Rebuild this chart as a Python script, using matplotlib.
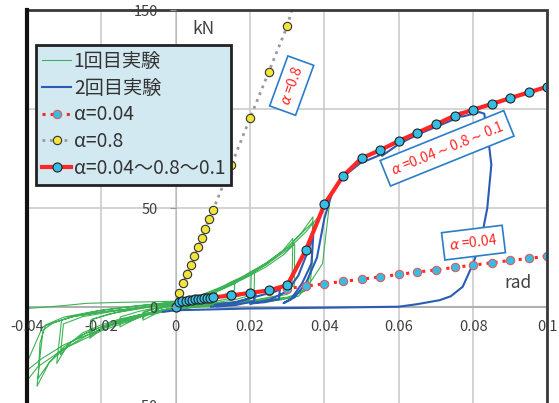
import matplotlib
matplotlib.use("Agg")
import matplotlib.pyplot as plt
from matplotlib.patches import Rectangle
from matplotlib.lines import Line2D
from matplotlib.ticker import FuncFormatter

plt.rcParams['font.family'] = ['Noto Sans CJK JP', 'DejaVu Sans']
plt.rcParams['axes.unicode_minus'] = False

# 1回目実験 (hysteresis loops), rad / kN
test1_x = [0, 0.002, 0.004, 0.0055, 0.0054, 0.003, 0, -0.003, -0.0055, -0.0054, -0.003, 0,
           0.003, 0.006, 0.009, 0.011, 0.0108, 0.007, 0.003, 0, -0.004, -0.0088, -0.0087, -0.006, -0.003, 0,
           0.004, 0.007, 0.0105, 0.0103, 0.006, 0.002, -0.003, -0.007, -0.0089, -0.0088, -0.006, -0.002, 0,
           0.004, 0.008, 0.012, 0.0159, 0.0158, 0.012, 0.007, 0.002, -0.004, -0.009, -0.015, -0.0149, -0.01,
           -0.005, 0,
           0.004, 0.008, 0.012, 0.016, 0.0203, 0.0202, 0.016, 0.01, 0.005, 0, -0.005, -0.01, -0.015, -0.019, -0.0231,
           -0.0229, -0.018, -0.012, -0.006, 0,
           0.005, 0.01, 0.015, 0.019, 0.0212, 0.0211, 0.015, 0.008, 0.003, 0, -0.006, -0.012, -0.018, -0.0225,
           -0.0224, -0.016, -0.008, 0,
           0.005, 0.01, 0.015, 0.02, 0.025, 0.029, 0.0315, 0.0313, 0.03, 0.025, 0.02, 0.015, 0.01, 0.005, 0,
           -0.005, -0.01, -0.015, -0.02, -0.025, -0.029, -0.032, -0.0307, -0.027, -0.02, -0.013, -0.006, 0,
           0.006, 0.012, 0.018, 0.024, 0.029, 0.032, 0.0319, 0.028, 0.021, 0.013, 0.006, 0,
           -0.006, -0.012, -0.018, -0.024, -0.028, -0.031, -0.0302, -0.025, -0.017, -0.009, 0,
           0.005, 0.01, 0.015, 0.02, 0.025, 0.03, 0.034, 0.0369, 0.0367, 0.0362, 0.033, 0.028, 0.02, 0.012, 0.005, 0,
           -0.005, -0.01, -0.015, -0.02, -0.025, -0.03, -0.034, -0.0373, -0.0365, -0.0357, -0.033, -0.028, -0.02,
           -0.012, -0.005, 0,
           0.006, 0.012, 0.018, 0.024, 0.03, 0.034, 0.0369, 0.0368, 0.0355, 0.031, 0.024, 0.015, 0.006, 0,
           -0.006, -0.012, -0.018, -0.024, -0.03, -0.034, -0.037, -0.0365, -0.035, -0.03, -0.022, -0.012, 0,
           0.006, 0.012, 0.018, 0.024, 0.03, 0.035, 0.0385, 0.0414, 0.0395, 0.036, 0.0347, 0.03, 0.022, 0.012, 0.004, 0,
           -0.01, -0.02, -0.03, -0.036, -0.04, -0.044, -0.045, -0.042, -0.04, -0.035, -0.03, -0.024, -0.015, -0.006, 0,
           -0.01, -0.02, -0.03, -0.037, -0.042, -0.046, -0.043, -0.0397, -0.0358, -0.0285, -0.02, -0.01, 0]
test1_y = [0, 1.2, 2.4, 3.6, 1.5, 0.4, -0.6, -1.6, -2.8, -1.2, -0.2, 0.8,
           2.2, 3.8, 5.5, 7.5, 3, 1.3, 0.2, -0.8, -2, -6.6, -3, -1, 0.6, 1.5,
           3.0, 4.8, 7.0, 3.2, 1.5, 0.3, -1.2, -3, -5.5, -2.6, -0.8, 0.5, 1.7,
           3.6, 6.2, 9.2, 13.6, 8.6, 5.5, 2.8, 0.6, -1.6, -4.2, -10, -5, -2.2,
           -0.2, 1.8,
           3.5, 5.8, 8.5, 12, 17.8, 6, 3.8, 2, 0.8, -0.5, -2, -4, -6.5, -9.5, -15.8,
           -6.6, -3.5, -1.2, 0.5, 2,
           4.5, 7.5, 11.5, 15.5, 18.7, 7.7, 4.5, 2, 0.5, -0.3, -2.5, -5.5, -9, -14,
           -6, -2.8, -0.3, 2.2,
           4.5, 7.5, 11.5, 16.5, 22.5, 29, 34.7, 12, 6.5, 4.5, 3, 2, 1.2, 0.3, -0.8,
           -2.2, -4, -6, -9, -13, -19, -28.5, -6.6, -4.5, -2.5, -1, 0.5, 2.5,
           5, 9, 14, 20, 26.5, 32, 11, 6, 3.5, 2.2, 0.8, -0.5,
           -2.8, -5.2, -8.5, -13, -17.5, -24, -8.5, -4.8, -2.2, -0.2, 2.4,
           4.8, 8, 12, 17, 23, 30, 38, 45.6, 22, 12, 5.5, 3.5, 2.3, 1.2, 0, -1,
           -2.5, -4.5, -7, -10, -14, -20, -28, -40, -25, -11.6, -8, -5, -2.5,
           -0.8, 1, 2.5,
           5.5, 10, 15.5, 22, 30, 37.5, 43, 26, 10, 5, 3, 1.5, 0, -1,
           -3, -6, -9.5, -14.5, -21, -28, -36, -18, -9, -5, -2.2, 0.2, 2.6,
           5.2, 9.5, 14.5, 21, 29, 38, 46, 53, 22, 12, 8, 5, 3.2, 1.8, 0.2, -1.2,
           -5, -11, -19, -26, -32, -45, -10, -2, -0.7, 0, 0.8, 1.9, 2.4, 2.7, 3,
           -5.5, -12, -21, -30, -42, -55, -40, -26.8, -10, -5, -1.5, 0.8, 2.6]

# 2回目実験
test2_x = [0.0095, 0.015, 0.02, 0.0215, 0.021, 0.016, 0.011, 0.0105, 0.016, 0.022, 0.027, 0.028, 0.0278,
           0.024, 0.02, 0.025, 0.03, 0.033, 0.0355, 0.037, 0.0365, 0.034, 0.031, 0.029, 0.032, 0.035, 0.038,
           0.04, 0.0423, 0.045, 0.0495, 0.0548, 0.0551, 0.0555, 0.0602, 0.0656, 0.071, 0.0763, 0.0766, 0.077,
           0.0817, 0.083, 0.0844, 0.0849, 0.0838, 0.083, 0.0822, 0.08, 0.0772, 0.074, 0.071, 0.065, 0.06,
           0.04, 0.02, 0.0, -0.0034]
test2_y = [0.2, 1.5, 4.5, 6.5, 3, 1, 0.3, 1.2, 2.5, 5.5, 8, 9, 4,
           2.5, 1.8, 3.5, 8, 16, 28, 36, 22, 12, 4, 2, 5, 12, 25,
           45, 59, 65.8, 72.6, 76.8, 79, 76.5, 82.7, 87.7, 91.9, 96.1, 98.5, 96.3,
           98.6, 97.8, 80, 72, 50, 42.3, 33.8, 22, 10.3, 5.5, 3.5, 1.5, 0.2,
           -0.3, -0.7, -1.6, -2.4]

# 解析 α=0.04
a004_x = [0, 0.001, 0.0018, 0.0027, 0.0035, 0.0043, 0.0051, 0.0059, 0.0068, 0.0076, 0.0084, 0.0092, 0.01,
          0.015, 0.02, 0.025, 0.03, 0.035, 0.04, 0.045, 0.05, 0.055, 0.06, 0.065, 0.07, 0.075, 0.08,
          0.085, 0.09, 0.095, 0.1]
a004_y = [0, 2.5, 3.0, 3.2, 3.5, 3.7, 3.9, 4.0, 4.2, 4.4, 4.5, 4.7, 4.9,
          5.9, 7.2, 8.3, 9.4, 10.6, 11.8, 13.0, 14.1, 15.3, 16.5, 17.7, 18.8, 20.1, 21.2,
          22.4, 23.6, 24.6, 25.8]

# 解析 α=0.8
a08_x = [0, 0.001, 0.002, 0.003, 0.004, 0.005, 0.006, 0.007, 0.008, 0.009, 0.01,
         0.015, 0.02, 0.025, 0.03, 0.0315]
a08_y = [0, 7.2, 12.0, 16.7, 21.1, 25.9, 30.4, 35.1, 39.7, 44.4, 49.0,
         72.0, 95.6, 118.8, 142.1, 152]

# 解析 α=0.04～0.8～0.1
amix_x = [0, 0.001, 0.0018, 0.0027, 0.0035, 0.0043, 0.0051, 0.0059, 0.0068, 0.0076, 0.0084, 0.0092, 0.01,
          0.015, 0.02, 0.025, 0.03, 0.035, 0.04, 0.045, 0.05, 0.055, 0.06, 0.065, 0.07, 0.075, 0.08,
          0.085, 0.09, 0.095, 0.1]
amix_y = [0, 2.5, 3.0, 3.2, 3.5, 3.7, 3.9, 4.0, 4.2, 4.4, 4.5, 4.7, 4.9,
          5.9, 7.2, 8.4, 11.1, 28.8, 51.9, 66.3, 75.3, 79.4, 84.0, 88.2, 92.4, 96.8, 99.8,
          102.7, 105.7, 108.6, 111.5]

x_ticks = [-0.04, -0.02, 0, 0.02, 0.04, 0.06, 0.08, 0.1]
y_ticks = [-50, 0, 50, 100, 150]

GREEN = '#3DB356'
BLUE = '#2A5CB4'
RED = '#FF2626'
CYAN = '#36BDE6'
TXT = '#404040'

fig = plt.figure(figsize=(5.59, 4.03), dpi=100)
ax = fig.add_axes([0.0483, -0.0074, 0.9311, 0.9814])
ax.set_xlim(-0.04, 0.1)
ax.set_ylim(-50, 150)

# grid behind everything, tick labels on top of the curves
for v in x_ticks:
    ax.axvline(v, color='#C8C8C8', lw=1.1, zorder=0.5)
for v in y_ticks:
    ax.axhline(v, color='#C8C8C8', lw=1.1, zorder=0.5)

ax.plot(test1_x, test1_y, color=GREEN, lw=0.8, zorder=2)
ax.plot(test2_x, test2_y, color=BLUE, lw=1.5, zorder=3)
ax.plot(a08_x, a08_y, ls=':', color='#9A9A9A', lw=2, marker='o', ms=6,
        mfc='#F2E43A', mec='#333333', mew=0.8, markevery=list(range(len(a08_x) - 1)), zorder=4)
ax.plot(a004_x, a004_y, ls=':', color=RED, lw=2.2, marker='o', ms=6,
        mfc=CYAN, mec='#E05A5A', mew=0.8, zorder=4)
ax.plot(amix_x, amix_y, color=RED, lw=3, marker='o', ms=6.5,
        mfc=CYAN, mec='#222222', mew=0.8, zorder=5)

# axes crossing at the origin, Excel style
for s in ('top', 'right'):
    ax.spines[s].set_visible(False)
ax.spines['left'].set_position(('data', 0))
ax.spines['bottom'].set_position(('data', 0))
ax.spines['left'].set_color('#BBBBBB')
ax.spines['bottom'].set_color('#B0B0B0')
ax.spines['bottom'].set_linewidth(1.5)
ax.spines['left'].set_zorder(1)
ax.spines['bottom'].set_zorder(1)
ax.set_xticks(x_ticks)
ax.set_yticks(y_ticks)
fmt = FuncFormatter(lambda v, p: f"{v:g}")
ax.xaxis.set_major_formatter(fmt)
ax.yaxis.set_major_formatter(fmt)
ax.tick_params(axis='x', length=0, pad=9, labelsize=10.5, labelcolor=TXT)
ax.tick_params(axis='y', length=4, pad=9, color='#999999', labelsize=10.5, labelcolor=TXT)
ax.xaxis.set_zorder(6)
ax.yaxis.set_zorder(6)

ax.add_patch(Rectangle((0, 0), 1, 1, transform=ax.transAxes, fill=False,
                       lw=2, ec='#3A3A3A', clip_on=False, zorder=6))
ax.plot([0, 0], [0, 1], transform=ax.transAxes, color='#111111', lw=3, clip_on=False, zorder=6)

ax.text(0.0045, 138, 'kN', fontsize=12.5, color=TXT)
ax.text(0.0885, 9.5, 'rad', fontsize=12.5, color=TXT)

box = dict(boxstyle='square,pad=0.45', fc='white', ec='#2A7DC8', lw=1.2)
ax.text(0.0312, 112, r'$\alpha$ =0.8', rotation=70, color=RED, fontsize=10,
        ha='center', va='center', bbox=box, zorder=7, rotation_mode='anchor')
ax.text(0.073, 80.3, r'$\alpha$ =0.04$\sim$0.8$\sim$0.1', rotation=22, color=RED, fontsize=10,
        ha='center', va='center', bbox=box, zorder=7, rotation_mode='anchor')
ax.text(0.0801, 32.6, r'$\alpha$ =0.04', rotation=7, color=RED, fontsize=10,
        ha='center', va='center', bbox=box, zorder=7, rotation_mode='anchor')

handles = [
    Line2D([], [], color=GREEN, lw=0.8),
    Line2D([], [], color=BLUE, lw=1.5),
    Line2D([], [], ls=':', color=RED, lw=2.2, marker='o', ms=6, mfc=CYAN, mec='#E05A5A', mew=0.8),
    Line2D([], [], ls=':', color='#9A9A9A', lw=2, marker='o', ms=6, mfc='#F2E43A', mec='#333333', mew=0.8),
    Line2D([], [], color=RED, lw=3, marker='o', ms=6.5, mfc=CYAN, mec='#222222', mew=0.8),
]
labels = ['1回目実験', '2回目実験', 'α=0.04', 'α=0.8', 'α=0.04～0.8～0.1']
leg = fig.legend(handles, labels, loc='upper left', bbox_to_anchor=(36 / 559, 1 - 45 / 403),
                 bbox_transform=fig.transFigure, borderaxespad=0, fontsize=13.8,
                 handlelength=1.55, handletextpad=0.12, labelspacing=0.3, borderpad=0.3,
                 fancybox=False, framealpha=1, facecolor='#D2E9F1', edgecolor='#222222',
                 labelcolor='#333333')
leg.get_frame().set_linewidth(2)
leg.set_zorder(10)

fig.savefig('out.png', dpi=100)
